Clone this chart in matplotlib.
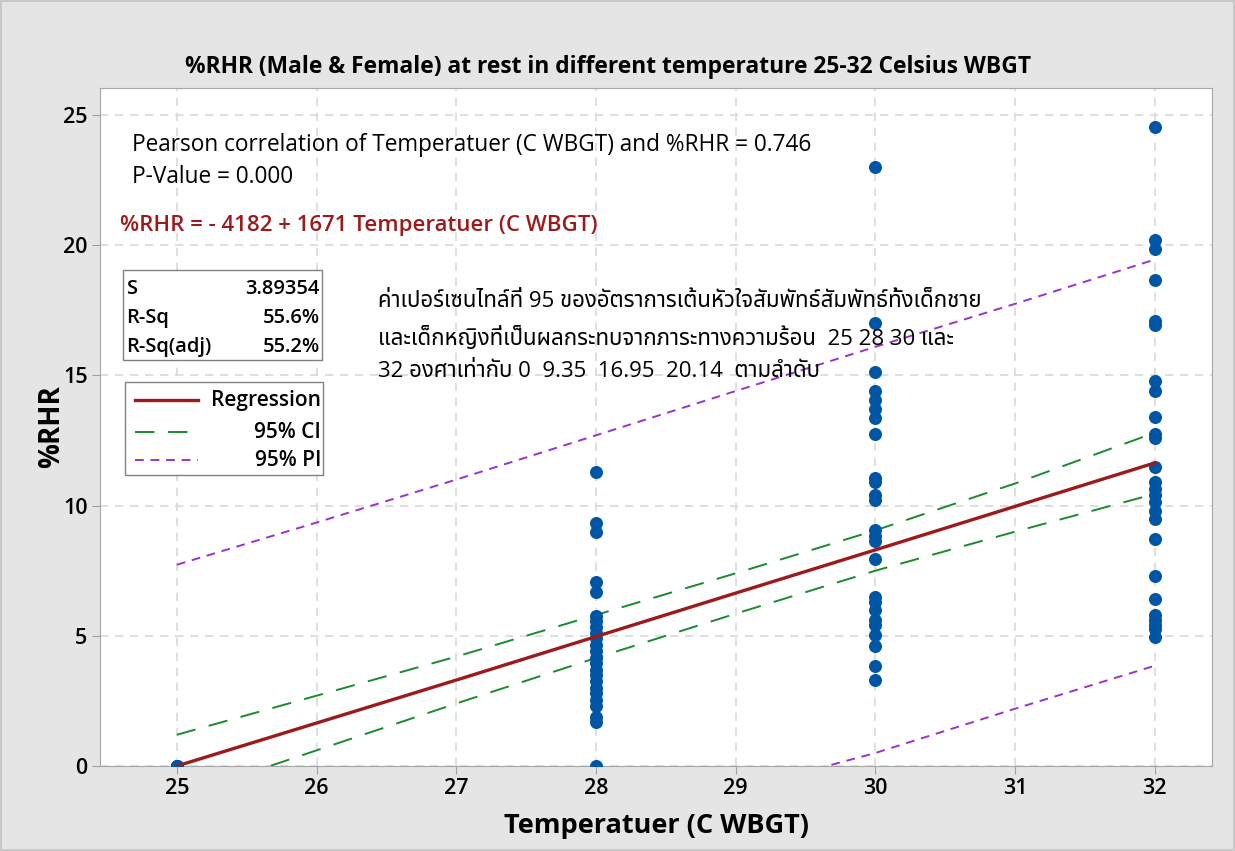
import numpy as np
import matplotlib
matplotlib.use("Agg")
import matplotlib.pyplot as plt
from matplotlib.patches import Rectangle
from matplotlib.lines import Line2D

plt.rcParams['font.family'] = ['Open Sans', 'Noto Sans Thai', 'DejaVu Sans']

# data
temps = [25, 28, 30, 32]
rhr_25 = [0, 0, 0]
rhr_28 = [11.3, 9.35, 9.0, 7.05, 6.7, 5.75, 5.55, 5.35, 5.1, 4.9, 4.65, 4.4, 4.15,
          3.95, 3.7, 3.5, 3.25, 3.0, 2.8, 2.55, 2.3, 1.9, 1.7, 0]
rhr_30 = [23.0, 17.0, 15.15, 14.4, 14.05, 13.7, 13.35, 12.75, 11.05, 10.9, 10.4, 10.2,
          9.05, 8.85, 8.65, 7.95, 6.5, 6.3, 6.0, 5.6, 5.4, 5.05, 4.6, 3.85, 3.3]
rhr_32 = [24.55, 20.2, 19.85, 18.65, 17.1, 16.95, 14.8, 14.4, 13.4, 12.75, 12.6, 11.5,
          10.9, 10.65, 10.4, 10.15, 9.8, 9.5, 8.7, 7.3, 6.4, 5.8, 5.6, 5.4, 5.25, 4.95]

# regression curve and bands at each degree
x_fit = [25, 26, 27, 28, 29, 30, 31, 32]
y_fit = [0.0, 1.65, 3.3, 4.97, 6.64, 8.3, 9.97, 11.64]
ci_hi = [1.2, 2.7, 4.2, 5.8, 7.4, 9.05, 10.85, 12.8]
ci_lo = [-1.2, 0.6, 2.4, 4.15, 5.85, 7.5, 9.0, 10.45]
pi_hi = [7.73, 9.35, 11.0, 12.7, 14.4, 16.1, 17.75, 19.45]
pi_lo = [-7.73, -6.05, -4.4, -2.75, -0.95, 0.5, 2.2, 3.85]

fig = plt.figure(figsize=(12.35, 8.51), dpi=100)
fig.patch.set_facecolor('#e5e5e5')
fig.patch.set_edgecolor('#c8c8c8')
fig.patch.set_linewidth(1.5)
ax = fig.add_axes([100/1235, 1-766/851, 1112/1235, 678/851])

ax.grid(True, color='#d9d9d9', linestyle=(0, (5, 4)), linewidth=1.2, zorder=0)
ax.set_axisbelow(True)

# points
for t, vals in zip(temps, [rhr_25, rhr_28, rhr_30, rhr_32]):
    ax.scatter(np.full(len(vals), t), vals, s=88, color='#0055a5', zorder=3, linewidths=0)

ax.plot(x_fit, ci_hi, color='#1a8a2e', lw=1.4, dashes=(10, 7), zorder=2)
ax.plot(x_fit, ci_lo, color='#1a8a2e', lw=1.4, dashes=(10, 7), zorder=2)
ax.plot(x_fit, pi_hi, color='#9933cc', lw=1.4, dashes=(4.5, 3.5), zorder=2)
ax.plot(x_fit, pi_lo, color='#9933cc', lw=1.4, dashes=(4.5, 3.5), zorder=2)
ax.plot(x_fit, y_fit, color='#9c1a1a', lw=2.4, zorder=4)

ax.set_xlim(24.45, 32.41)
ax.set_ylim(0, 26.04)
ax.set_xticks(range(25, 33))
ax.set_yticks(range(0, 26, 5))
ax.tick_params(direction='out', length=6, color='#a0a0a0', labelsize=15.5, pad=3)
for lab in ax.get_xticklabels() + ax.get_yticklabels():
    lab.set_fontweight('semibold')
for s in ax.spines.values():
    s.set_color('#a6a6a6')

ax.set_title('%RHR (Male & Female) at rest in different temperature 25-32 Celsius WBGT',
             fontsize=16.4, fontweight='bold', pad=11, x=0.457)
ax.set_xlabel('Temperatuer (C WBGT)', fontsize=19.5, fontweight='bold', labelpad=10)
ax.set_ylabel('%RHR', fontsize=20, fontweight='bold', labelpad=-2)

ax.text(0.0288, 0.916, 'Pearson correlation of Temperatuer (C WBGT) and %RHR = 0.746',
        transform=ax.transAxes, fontsize=16.3, va='center')
ax.text(0.0288, 0.869, 'P-Value = 0.000', transform=ax.transAxes, fontsize=16.3, va='center')
ax.text(0.018, 0.7965, '%RHR = - 4182 + 1671 Temperatuer (C WBGT)', transform=ax.transAxes,
        fontsize=16, fontweight='semibold', color='#9c1a1a', va='center')

# stats box
ax.add_patch(Rectangle((0.0207, 0.5988), 0.1789, 0.1328, transform=ax.transAxes,
                       facecolor='white', edgecolor='#808080', lw=1, zorder=5))
stats_names = ['S', 'R-Sq', 'R-Sq(adj)']
stats_vals = ['3.89354', '55.6%', '55.2%']
for i, (n, v) in enumerate(zip(stats_names, stats_vals)):
    yy = 0.7035 - i * 0.0427
    ax.text(0.0234, yy, n, transform=ax.transAxes, fontsize=14.5, fontweight='semibold',
            va='center', zorder=6)
    ax.text(0.1978, yy, v, transform=ax.transAxes, fontsize=14.5, fontweight='semibold',
            va='center', ha='right', zorder=6)

# legend box
ax.add_patch(Rectangle((0.0225, 0.4292), 0.178, 0.1372, transform=ax.transAxes,
                       facecolor='white', edgecolor='#808080', lw=1, zorder=5))
leg_labels = ['Regression', '95% CI', '95% PI']
leg_styles = [dict(color='#9c1a1a', lw=2.4),
              dict(color='#1a8a2e', lw=1.4, dashes=(10, 7)),
              dict(color='#9933cc', lw=1.4, dashes=(4.5, 3.5))]
for i, (lab, st) in enumerate(zip(leg_labels, leg_styles)):
    yy = [0.5398, 0.4926, 0.4513][i]
    ax.add_line(Line2D([0.0315, 0.0881], [yy, yy], transform=ax.transAxes, zorder=6, **st))
    ax.text(0.1987, yy, lab, transform=ax.transAxes, fontsize=15, fontweight='semibold',
            va='center', ha='right', zorder=6)

thai = ('ค่าเปอร์เซนไทล์ที่ 95 ของอัตราการเต้นหัวใจสัมพัทธ์สัมพัทธ์ทั้งเด็กชาย\n'
        'และเด็กหญิงที่เป็นผลกระทบจากภาระทางความร้อน  25 28 30 และ\n'
        '32 องศาเท่ากับ 0  9.35  16.95  20.14  ตามลำดับ')
ax.text(0.25, 0.7, thai, transform=ax.transAxes, fontsize=16, va='top',
        linespacing=1.7, zorder=6)

fig.savefig('out.png', dpi=100, facecolor=fig.get_facecolor(), edgecolor=fig.get_edgecolor())
